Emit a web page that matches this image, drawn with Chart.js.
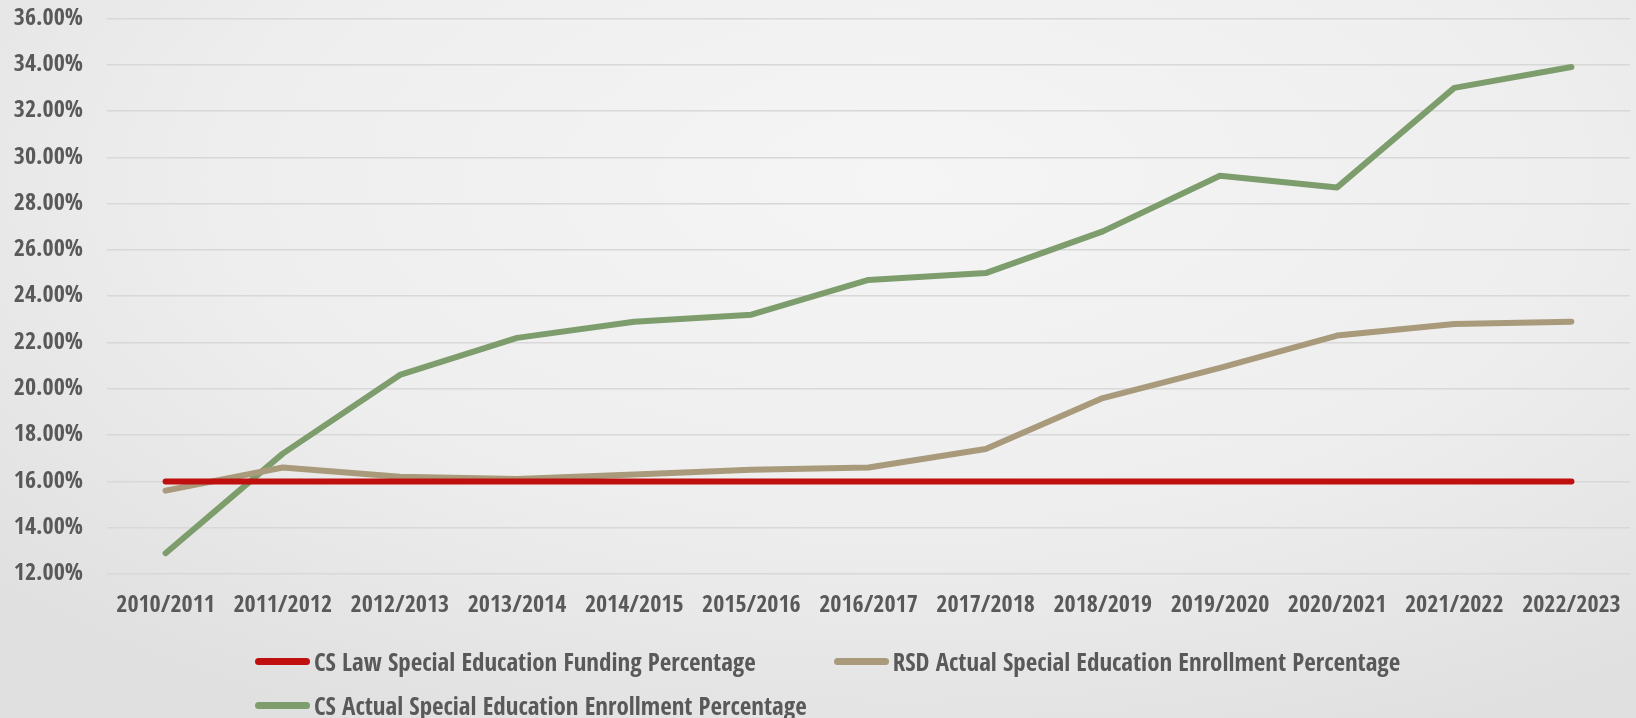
<!DOCTYPE html>
<html>
<head>
<meta charset="utf-8">
<title>Special Education Enrollment</title>
<script src="https://cdn.jsdelivr.net/npm/chart.js@4.4.1/dist/chart.umd.min.js"></script>
<style>
  html, body { margin: 0; padding: 0; }
  body {
    width: 1636px;
    height: 718px;
    overflow: hidden;
    position: relative;
    background: radial-gradient(ellipse 75% 85% at 55% 25%, #f5f5f5 0%, #eeeeee 55%, #e0e0e0 100%);
    font-family: "Open Sans Condensed", "Roboto Condensed", sans-serif;
  }
  #chart-box { position: absolute; left: 0; top: 0; width: 1636px; height: 718px; }
  #legend {
    position: absolute;
    left: 255px;
    top: 639px;
    width: 1350px;
    display: flex;
    flex-wrap: wrap;
  }
  .legend-item {
    display: flex;
    align-items: center;
    height: 44px;
    margin-right: 78px;
    font-weight: 800;
    font-size: 25px;
    color: #595959;
    white-space: nowrap;
  }
  .legend-line {
    width: 55px;
    height: 7px;
    border-radius: 4px;
    margin-right: 4px;
  }
  .legend-break { flex-basis: 100%; height: 0; }
</style>
</head>
<body>
<div id="chart-box"><canvas id="myChart" width="1636" height="718"></canvas></div>
<div id="legend"></div>
<script>
const years = [
  "2010/2011", "2011/2012", "2012/2013", "2013/2014", "2014/2015", "2015/2016", "2016/2017",
  "2017/2018", "2018/2019", "2019/2020", "2020/2021", "2021/2022", "2022/2023"
];

// percentages
const csLawFunding = [16, 16, 16, 16, 16, 16, 16, 16, 16, 16, 16, 16, 16];
const rsdEnrollment = [15.6, 16.6, 16.2, 16.1, 16.3, 16.5, 16.6, 17.4, 19.6, 20.9, 22.3, 22.8, 22.9];
const csEnrollment = [12.9, 17.2, 20.6, 22.2, 22.9, 23.2, 24.7, 25.0, 26.8, 29.2, 28.7, 33.0, 33.9];

const yTicks = [12, 14, 16, 18, 20, 22, 24, 26, 28, 30, 32, 34, 36];

const textColor = "#595959";
const fontFamily = `"Open Sans Condensed", "Roboto Condensed", sans-serif`;

// builds the legend as html under the plot, two items on the first row
const htmlLegend = {
  id: "htmlLegend",
  afterUpdate(chart) {
    const box = document.getElementById("legend");
    box.innerHTML = "";
    const items = chart.options.plugins.legend.labels.generateLabels(chart);
    items.forEach((item, i) => {
      const div = document.createElement("div");
      div.className = "legend-item";
      const line = document.createElement("span");
      line.className = "legend-line";
      line.style.background = item.strokeStyle;
      const label = document.createElement("span");
      label.textContent = item.text;
      div.appendChild(line);
      div.appendChild(label);
      box.appendChild(div);
      if (i === 1) {
        const br = document.createElement("div");
        br.className = "legend-break";
        box.appendChild(br);
      }
    });
  },
};

function makeLine(label, data, color) {
  return {
    label: label,
    data: data,
    borderColor: color,
    backgroundColor: color,
    borderWidth: 6,
    borderCapStyle: "round",
    borderJoinStyle: "round",
    pointRadius: 0,
    fill: false,
    tension: 0,
  };
}

let ctx = document.getElementById("myChart").getContext("2d");

new Chart(ctx, {
  type: "line",
  data: {
    labels: years,
    datasets: [
      makeLine("CS Law Special Education Funding Percentage", csLawFunding, "#c00f0f"),
      makeLine("RSD Actual Special Education Enrollment Percentage", rsdEnrollment, "#a89a7b"),
      makeLine("CS Actual Special Education Enrollment Percentage", csEnrollment, "#7e9d6c"),
    ],
  },
  plugins: [htmlLegend],
  options: {
    responsive: false,
    animation: false,
    layout: {
      padding: { top: 0, right: 6, bottom: 84, left: 0 },
    },
    plugins: {
      legend: { display: false },
      tooltip: { enabled: false },
    },
    scales: {
      x: {
        offset: true,
        // invisible tick marks push the labels down without extra side padding
        grid: { display: true, color: "transparent", drawTicks: true, tickLength: 13, tickColor: "transparent" },
        border: { display: false },
        ticks: {
          color: textColor,
          padding: 4,
          maxRotation: 0,
          autoSkip: false,
          font: { family: fontFamily, size: 24, weight: "800" },
        },
        afterFit: function (scale) {
          scale.height = 60;
        },
      },
      y: {
        min: 12,
        max: 36,
        afterBuildTicks: function (scale) {
          scale.ticks = yTicks.map((v) => ({ value: v }));
        },
        grid: { color: "#d8d8d8", lineWidth: 1.5, drawTicks: true, tickLength: 20, tickColor: "transparent" },
        border: { display: false },
        ticks: {
          color: textColor,
          padding: 4,
          font: { family: fontFamily, size: 24, weight: "800" },
          callback: function (value) {
            return value.toFixed(2) + "%";
          },
        },
        afterFit: function (scale) {
          scale.width = 107;
        },
      },
    },
  },
});
</script>
</body>
</html>
